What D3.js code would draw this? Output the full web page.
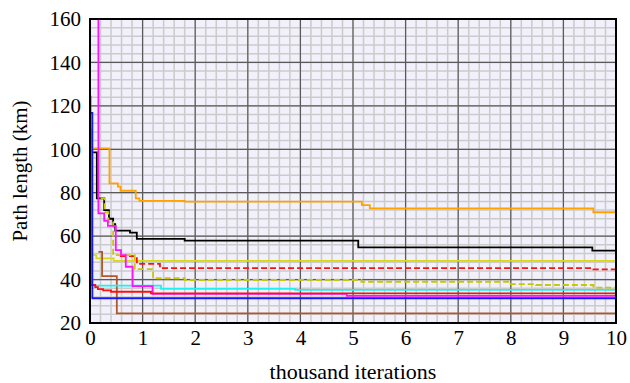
<!DOCTYPE html>
<html>
    <head>
        <meta charset="utf-8"/>
        <script src="https://d3js.org/d3.v7.min.js"></script>
        <style>
            body { margin: 0; background: #fff; }
            svg text { font-family: 'Times New Roman', Times, 'Nimbus Roman', 'Nimbus Roman No9 L', 'FreeSerif', 'Noto Serif', 'Liberation Serif', 'DejaVu Serif', serif !important; }
        </style>
    </head>
    <body>
        <div id="chart"></div>
        <script>
            // step traces: [thousand iterations, path length km]
            var orange = [[0.06,100.4],[0.37,84.3],[0.53,82.8],[0.58,80.9],[0.87,77.4],[0.94,76.2],[1.8,75.9],[5.17,74.3],[5.32,72.8],[9.57,71],[10,71]];
            var black = [[0.06,98.6],[0.13,77.4],[0.27,72],[0.36,68],[0.44,65.5],[0.48,62.5],[0.76,61.6],[0.89,58.7],[1.8,57.9],[5.1,54.8],[9.55,53.3],[10,53.3]];
            var yellow = [[0.02,51.3],[0.12,49.8],[0.45,48.6],[10,48.6]];
            var redDashed = [[0.57,50.8],[0.89,47.2],[1.33,45.3],[9.57,44.7],[10,44.7]];
            var yellowDashed = [[0.2,77.4],[0.28,71],[0.35,66.5],[0.44,51.3],[0.85,44.8],[1.2,40.6],[1.8,39.8],[5.16,39],[7.98,37.9],[8.48,37.5],[9.57,36.3],[10,36.3]];
            var cyan = [[0.02,109],[0.03,37.2],[1.35,35.7],[3.9,35.3],[10,35.3]];
            var magenta = [[0.146,175],[0.16,70.5],[0.27,67.1],[0.34,64.7],[0.49,53.6],[0.59,51.3],[0.68,45.9],[0.81,37],[1.19,33.4],[4.88,32.5],[10,32.5]];
            var red = [[0.0,124.2],[0.01,37.5],[0.1,36.5],[0.15,35.6],[0.25,35],[0.4,34.4],[1.16,33.6],[10,33.6]];
            var blue = [[0.005,116.7],[0.045,31.4],[10,31.4]];
            var brown = [[0.16,52.8],[0.23,41.6],[0.51,24.4],[10,24.2]];

            var series = [
                {d: orange, c: "#ffa200"},
                {d: black, c: "#000000"},
                {d: yellow, c: "#d8d818"},
                {d: redDashed, c: "#ff1010", dash: "6,3"},
                {d: yellowDashed, c: "#c8c800", dash: "6,3"},
                {d: brown, c: "#b0582a"},
                {d: cyan, c: "#20f0f0"},
                {d: magenta, c: "#ff10ff"},
                {d: red, c: "#ff1010"},
                {d: blue, c: "#1818ff"}
            ];

            var yTicks = [20, 40, 60, 80, 100, 120, 140, 160];
            var xTicks = [0, 1, 2, 3, 4, 5, 6, 7, 8, 9, 10];

            var W = 630, H = 383;
            var x = d3.scaleLinear().domain([0, 10]).range([90, 616]);
            var y = d3.scaleLinear().domain([20, 160]).range([323, 19]);

            var svg = d3.select("#chart").append("svg")
                .attr("width", W).attr("height", H);

            svg.append("defs").append("clipPath").attr("id", "clip")
                .append("rect")
                .attr("x", x(0)).attr("y", y(160))
                .attr("width", x(10) - x(0)).attr("height", y(20) - y(160));

            svg.append("rect")
                .attr("x", x(0)).attr("y", y(160))
                .attr("width", x(10) - x(0)).attr("height", y(20) - y(160))
                .attr("fill", "#f1f0fb");

            // minor grid
            var grid = svg.append("g");
            grid.selectAll(".vmin").data(d3.range(0, 10.01, 0.2))
                .enter().append("line")
                .attr("x1", d => x(d)).attr("x2", d => x(d))
                .attr("y1", y(20)).attr("y2", y(160))
                .attr("stroke", "#cbcbcb").attr("stroke-width", 1.5);
            grid.selectAll(".hmin").data(d3.range(20, 160.01, 4))
                .enter().append("line")
                .attr("y1", d => y(d)).attr("y2", d => y(d))
                .attr("x1", x(0)).attr("x2", x(10))
                .attr("stroke", "#cbcbcb").attr("stroke-width", 1.5);
            // major grid
            grid.selectAll(".vmaj").data(xTicks)
                .enter().append("line")
                .attr("x1", d => x(d)).attr("x2", d => x(d))
                .attr("y1", y(20)).attr("y2", y(160))
                .attr("stroke", "#5a5a5a").attr("stroke-width", 1.2);
            grid.selectAll(".hmaj").data(yTicks)
                .enter().append("line")
                .attr("y1", d => y(d)).attr("y2", d => y(d))
                .attr("x1", x(0)).attr("x2", x(10))
                .attr("stroke", "#5a5a5a").attr("stroke-width", 1.2);

            var line = d3.line()
                .x(d => x(d[0])).y(d => y(d[1]))
                .curve(d3.curveStepAfter);

            svg.append("g").attr("clip-path", "url(#clip)")
                .selectAll("path").data(series)
                .enter().append("path")
                .attr("d", s => line(s.d))
                .attr("fill", "none")
                .attr("stroke", s => s.c)
                .attr("stroke-width", 1.8)
                .attr("stroke-dasharray", s => s.dash || null);

            // frame
            svg.append("rect")
                .attr("x", x(0)).attr("y", y(160))
                .attr("width", x(10) - x(0)).attr("height", y(20) - y(160))
                .attr("fill", "none").attr("stroke", "#000").attr("stroke-width", 2);

            var yAxis = svg.append("g")
                .attr("transform", "translate(" + x(0) + ",0)")
                .call(d3.axisLeft(y).tickValues(yTicks).tickSize(0).tickPadding(9));
            var xAxis = svg.append("g")
                .attr("transform", "translate(0," + y(20) + ")")
                .call(d3.axisBottom(x).tickValues(xTicks).tickSize(0).tickPadding(7));
            [yAxis, xAxis].forEach(function(a) {
                a.attr("font-family", null).attr("font-size", null);
                a.select(".domain").remove();
                a.selectAll("text")
                    .attr("font-size", 21)
                    .attr("fill", "#000");
            });

            svg.append("text")
                .attr("x", (x(0) + x(10)) / 2).attr("y", 379)
                .attr("text-anchor", "middle")
                .attr("font-size", 22)
                .text("thousand iterations");

            svg.append("text")
                .attr("transform", "translate(27," + (y(20) + y(160)) / 2 + ") rotate(-90)")
                .attr("text-anchor", "middle")
                .attr("font-size", 21)
                .text("Path length (km)");
        </script>
    </body>
</html>
